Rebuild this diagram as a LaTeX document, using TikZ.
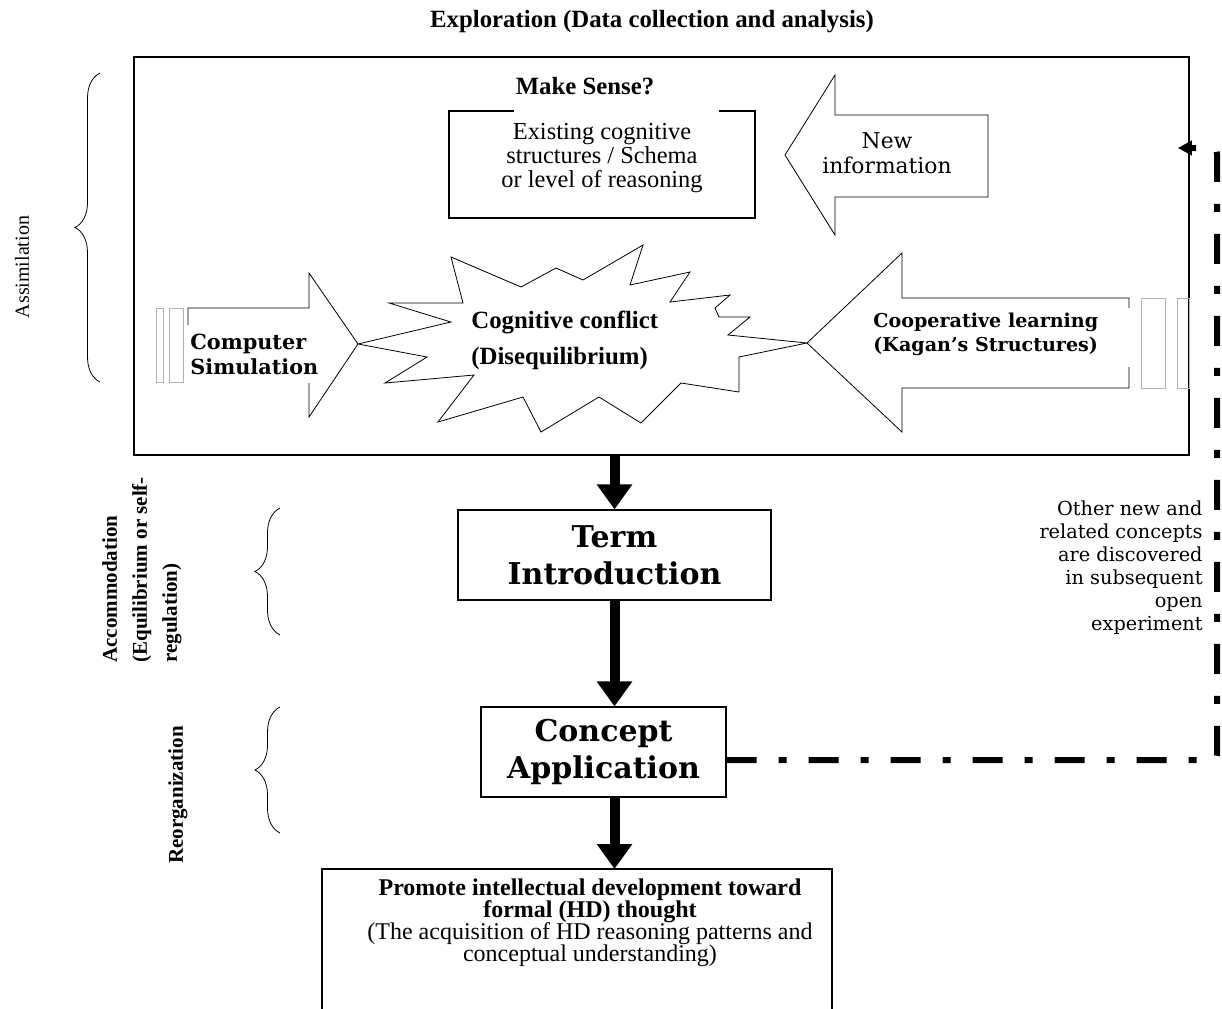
\documentclass[tikz,border=0pt]{standalone}
\usepackage{fontspec}
\setmainfont{Liberation Serif}
\newfontfamily\dejavu{DejaVu Serif}
\usetikzlibrary{arrows.meta,decorations.pathreplacing,calc}

\tikzset{
  box/.style={draw, semithick, inner sep=0pt},
  blockarrow/.style={thin, line join=miter},
  stripe/.style={draw=gray!60, thin},
  flow/.style={line width=5pt, -{Triangle[width=17pt,length=12.5pt]}},
  feedback/.style={line width=3pt, dash pattern=on 15pt off 11pt on 4pt off 11pt,
    rounded corners=3pt, -{Triangle[width=7pt,length=7pt]}},
  phase/.style={decorate, decoration={brace, amplitude=12.5pt}, thin},
  side/.style={rotate=90, font=\bfseries\fontsize{10.5}{15}\selectfont, align=left, inner sep=0pt},
}

\begin{document}
\begin{tikzpicture}[x=0.5pt,y=-0.5pt]
    \useasboundingbox (0,0) rectangle (1222,1008);

    % Exploration box
    \node[box, line width=0.8pt, minimum width=527.5pt, minimum height=199pt] (explore) at (661.5,256) {};
    \node[font=\bfseries\fontsize{12.4}{14}\selectfont] (title) at (652,22) {Exploration (Data collection and analysis)};

    % Schema box, open at the top
    \node[font=\fontsize{12.2}{12}\selectfont, align=center] (schema) at (602,158)
        {Existing cognitive\\structures / Schema\\or level of reasoning};
    \draw[semithick] (514,111) -- (449,111) -- (449,218) -- (755,218) -- (755,111) -- (719,111);
    \node[font=\bfseries\fontsize{12.4}{14}\selectfont] (makesense) at (585,86) {Make Sense?};

    % New information arrow
    \draw[blockarrow] (988,115) -- (835,115) -- (835,75) -- (785,155) -- (835,235)
        -- (835,197) -- (988,197) -- cycle;
    \node[font=\dejavu\fontsize{10.9}{12.5}\selectfont, align=center] (newinfo) at (887,153) {New\\information};

    % Computer simulation arrow
    \draw[blockarrow] (188,325) -- (188,308) -- (309,308) -- (309,273) -- (358,344)
        -- (309,417) -- (309,383);
    \foreach \x/\w in {156/7,169/14}
        \draw[stripe] (\x,308) rectangle ++(\w,74);
    \node[font=\dejavu\bfseries\fontsize{10.4}{12.5}\selectfont, align=left, anchor=west, inner sep=0pt]
        (compsim) at (190,354) {Computer\\Simulation};

    % Cooperative learning arrow
    \draw[blockarrow] (1129,308) -- (1129,298) -- (902,298) -- (902,253) -- (807,343)
        -- (902,432) -- (902,388) -- (1129,388) -- (1129,367);
    \foreach \x/\w in {1141/24,1177/12}
        \draw[stripe] (\x,298) rectangle ++(\w,90);
    \node[font=\dejavu\bfseries\fontsize{9.55}{12}\selectfont, align=left, anchor=west, inner sep=0pt]
        (coop) at (873,334) {Cooperative learning\\(Kagan’s Structures)};

    % Cognitive conflict burst
    \draw[thin, line join=miter] (358,344) -- (451,322) -- (389,303) -- (463,303) -- (451,257)
        -- (521,287) -- (556,268) -- (583,280) -- (643,245) -- (630,285) -- (690,272)
        -- (670,302) -- (730,295) -- (715,308) -- (719,317) -- (750,317) -- (728,335)
        -- (807,343) -- (739,357) -- (739,392) -- (681,383) -- (641,423) -- (599,397)
        -- (541,432) -- (523,397) -- (438,422) -- (474,375) -- (385,383) -- (427,357) -- cycle;
    \node[font=\bfseries\fontsize{12.4}{18}\selectfont, align=left, anchor=west, inner sep=0pt]
        (conflict) at (471,340) {Cognitive conflict\\(Disequilibrium)};

    % Flow boxes
    \node[box, minimum width=156.5pt, minimum height=45pt, align=center,
        font=\dejavu\bfseries\fontsize{15}{18.5}\selectfont] (term) at (614.5,555) {Term\\Introduction};
    \node[box, minimum width=122.5pt, minimum height=45pt, align=center,
        font=\dejavu\bfseries\fontsize{15}{18.5}\selectfont] (concept) at (603.5,752) {Concept\\Application};

    % Promote box, open at the bottom
    \coordinate (promotetop) at (577,869);
    \draw[semithick] (322,1020) -- (322,869) -- (832,869) -- (832,1020);
    \node[align=center, font=\fontsize{12}{10.9}\selectfont] (promote) at (590,923)
        {\textbf{Promote intellectual development toward}\\[-1pt]\textbf{formal (HD) thought}\\[-1pt]
         (The acquisition of HD reasoning patterns and\\[-1pt]conceptual understanding)};

    % Flow arrows
    \draw[flow] (term.north |- explore.south) -- (term.north);
    \draw[flow] (term.south) -- (term.south |- concept.north);
    \draw[flow] (term.south |- concept.south) -- (term.south |- promotetop);

    % Feedback loop
    \coordinate (loop) at (1217,148);
    \draw[feedback] ([yshift=-4pt]concept.east) -| (loop) -- ([xshift=-6pt]explore.east |- loop);
    \node[font=\dejavu\fontsize{9.65}{11.5}\selectfont, align=right, anchor=east, inner sep=0pt]
        (other) at (1203,568) {Other new and\\related concepts\\are discovered\\in subsequent\\open\\experiment};

    % Phase braces
    \draw[phase] (100,382) -- (100,73);
    \draw[phase] (280,635) -- (280,508);
    \draw[phase] (280,833) -- (280,707);

    \node[side, font=\fontsize{10}{12}\selectfont] (assim) at (22,267) {Assimilation};
    \node[side, anchor=north west] (accom) at (102,663)
        {Accommodation\\(Equilibrium or self-\\regulation)};
    \node[side] (reorg) at (178,795) {Reorganization};

\end{tikzpicture}
\end{document}
